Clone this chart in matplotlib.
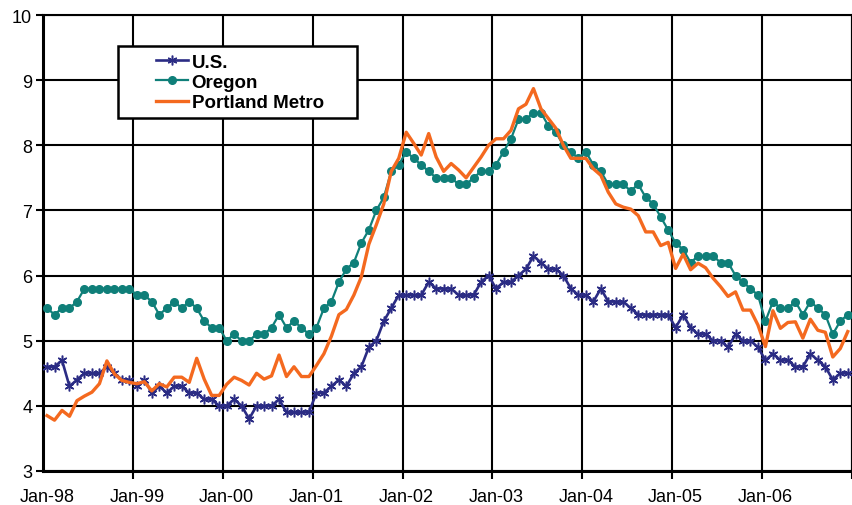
import numpy as np
import matplotlib
matplotlib.use("Agg")
import matplotlib.pyplot as plt
from matplotlib.patches import Rectangle

# monthly unemployment rate, Jan-98 .. Dec-06
us = [4.6, 4.6, 4.7, 4.3, 4.4, 4.5, 4.5, 4.5, 4.6, 4.5, 4.4, 4.4,
      4.3, 4.4, 4.2, 4.3, 4.2, 4.3, 4.3, 4.2, 4.2, 4.1, 4.1, 4.0,
      4.0, 4.1, 4.0, 3.8, 4.0, 4.0, 4.0, 4.1, 3.9, 3.9, 3.9, 3.9,
      4.2, 4.2, 4.3, 4.4, 4.3, 4.5, 4.6, 4.9, 5.0, 5.3, 5.5, 5.7,
      5.7, 5.7, 5.7, 5.9, 5.8, 5.8, 5.8, 5.7, 5.7, 5.7, 5.9, 6.0,
      5.8, 5.9, 5.9, 6.0, 6.1, 6.3, 6.2, 6.1, 6.1, 6.0, 5.8, 5.7,
      5.7, 5.6, 5.8, 5.6, 5.6, 5.6, 5.5, 5.4, 5.4, 5.4, 5.4, 5.4,
      5.2, 5.4, 5.2, 5.1, 5.1, 5.0, 5.0, 4.9, 5.1, 5.0, 5.0, 4.9,
      4.7, 4.8, 4.7, 4.7, 4.6, 4.6, 4.8, 4.7, 4.6, 4.4, 4.5, 4.5]

oregon = [5.5, 5.4, 5.5, 5.5, 5.6, 5.8, 5.8, 5.8, 5.8, 5.8, 5.8, 5.8,
          5.7, 5.7, 5.6, 5.4, 5.5, 5.6, 5.5, 5.6, 5.5, 5.3, 5.2, 5.2,
          5.0, 5.1, 5.0, 5.0, 5.1, 5.1, 5.2, 5.4, 5.2, 5.3, 5.2, 5.1,
          5.2, 5.5, 5.6, 5.9, 6.1, 6.2, 6.5, 6.7, 7.0, 7.2, 7.6, 7.7,
          7.9, 7.8, 7.7, 7.6, 7.5, 7.5, 7.5, 7.4, 7.4, 7.5, 7.6, 7.6,
          7.7, 7.9, 8.1, 8.4, 8.4, 8.5, 8.5, 8.3, 8.2, 8.0, 7.9, 7.8,
          7.9, 7.7, 7.6, 7.4, 7.4, 7.4, 7.3, 7.4, 7.2, 7.1, 6.9, 6.7,
          6.5, 6.4, 6.2, 6.3, 6.3, 6.3, 6.2, 6.2, 6.0, 5.9, 5.8, 5.7,
          5.3, 5.6, 5.5, 5.5, 5.6, 5.4, 5.6, 5.5, 5.4, 5.1, 5.3, 5.4]

portland = [3.85, 3.78, 3.93, 3.84, 4.08, 4.15, 4.21, 4.34, 4.69, 4.49, 4.39, 4.36,
            4.34, 4.37, 4.23, 4.34, 4.29, 4.44, 4.44, 4.36, 4.73, 4.41, 4.16, 4.16,
            4.33, 4.44, 4.39, 4.32, 4.50, 4.41, 4.46, 4.78, 4.45, 4.60, 4.45, 4.45,
            4.62, 4.80, 5.07, 5.40, 5.48, 5.70, 5.98, 6.48, 6.78, 7.10, 7.60, 7.80,
            8.20, 8.03, 7.85, 8.18, 7.82, 7.60, 7.72, 7.62, 7.50, 7.66, 7.82, 8.00,
            8.10, 8.10, 8.23, 8.56, 8.63, 8.87, 8.56, 8.41, 8.26, 8.00, 7.80, 7.80,
            7.80, 7.64, 7.54, 7.28, 7.10, 7.05, 7.02, 6.92, 6.67, 6.67, 6.46, 6.51,
            6.11, 6.33, 6.09, 6.19, 6.12, 5.96, 5.83, 5.68, 5.75, 5.47, 5.47, 5.24,
            4.91, 5.46, 5.19, 5.28, 5.29, 5.04, 5.33, 5.16, 5.13, 4.75, 4.88, 5.14]

year_labels = ['Jan-98', 'Jan-99', 'Jan-00', 'Jan-01', 'Jan-02',
               'Jan-03', 'Jan-04', 'Jan-05', 'Jan-06']

plt.rcParams['font.family'] = ['Liberation Sans', 'DejaVu Sans']

W, H = 852, 506
fig = plt.figure(figsize=(W / 100, H / 100), dpi=100)
ax = fig.add_axes([43.3 / W, 1 - 472 / H, (851.5 - 43.3) / W, (472 - 16) / H])

x = np.arange(len(us))
ax.plot(x, us, color='#2B2C84', lw=1.9, marker=(6, 2, 0), ms=7, mew=1.1,
        label='U.S.', zorder=3)
ax.plot(x, oregon, color='#0F7F79', lw=1.6, marker='o', ms=5.5,
        label='Oregon', zorder=4)
ax.plot(x, portland, color='#F4691F', lw=2.4, label='Portland Metro', zorder=5)

ax.set_xlim(-0.5, len(us) - 0.5)
ax.set_ylim(3, 10)

# gridlines at category boundaries, labels at category centres
ax.set_xticks(np.arange(11.5, len(us), 12))
ax.set_xticks(np.arange(0, len(us), 12), minor=True)
ax.set_xticklabels(year_labels, minor=True)
ax.tick_params(axis='x', which='major', labelbottom=False, length=6, width=1.5)
ax.tick_params(axis='x', which='minor', length=0, pad=12.5, labelsize=13)
ax.set_yticks(np.arange(3, 11, 1))
ax.tick_params(axis='y', length=5, width=1.5, pad=3, labelsize=13)

ax.grid(True, which='major', color='black', lw=1.5)
ax.set_axisbelow(True)
for s in ax.spines.values():
    s.set_linewidth(1.5)
ax.spines['left'].set_linewidth(2.2)
ax.spines['bottom'].set_linewidth(2.2)

# legend box drawn separately (Excel-style padding)
ax.add_patch(Rectangle((118 / W, 1 - 119 / H), (357 - 118) / W, (119 - 47) / H,
                       transform=fig.transFigure, facecolor='white',
                       edgecolor='black', lw=1.8, zorder=6, clip_on=False))
leg = ax.legend(loc='upper left', bbox_to_anchor=(156 / W, 1 - 54.5 / H),
                bbox_transform=fig.transFigure, frameon=False,
                prop={'weight': 'bold', 'size': 13.5}, handlelength=1.7,
                handletextpad=0.2, labelspacing=0.17, borderpad=0,
                borderaxespad=0)
leg.set_zorder(7)

fig.savefig('out.png', dpi=100)
